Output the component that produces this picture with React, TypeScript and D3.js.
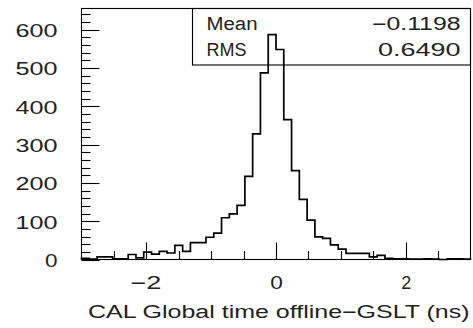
import React from "react";
import * as d3 from "d3";

// ---- data ----
const binLow = -3;
const binHigh = 3;
const binCounts = [
  3, 1, 7, 7, 2, 2, 13, 4, 19, 14,
  21, 17, 37, 21, 44, 44, 58, 69, 109, 119,
  141, 217, 328, 487, 587, 548, 365, 232, 157, 103,
  59, 55, 38, 27, 16, 16, 16, 7, 11, 3,
  2, 2, 1, 1, 2, 1, 0, 2, 2, 1,
];
const yMax = 655;
const yMajorTicks = [0, 100, 200, 300, 400, 500, 600];
const xMajorTicks = [-2, 0, 2];
const xTickLabels = ["\u22122", "0", "2"];
const xTitle = "CAL Global time offline\u2212GSLT (ns)";
const statNames = ["Mean", "RMS"];
const statValues = ["\u22120.1198", "0.6490"];

const W = 473;
const H = 328;
const FONT = "'Liberation Sans', Arial, sans-serif";

export default function App() {
  const left = 81.5, right = 470.5, top = 8.5, bottom = 259.5;
  const x = d3.scaleLinear().domain([binLow, binHigh]).range([left, right]);
  const y = d3.scaleLinear().domain([0, yMax]).range([bottom, top]);
  const n = binCounts.length;
  const bw = (binHigh - binLow) / n;

  const pts: [number, number][] = [[binLow, 0]];
  binCounts.forEach((v, i) => {
    pts.push([binLow + i * bw, v]);
    pts.push([binLow + (i + 1) * bw, v]);
  });
  pts.push([binHigh, 0]);
  const line = d3.line<[number, number]>().x((d) => x(d[0])).y((d) => y(d[1]));

  const yMinor = d3.range(0, 641, 20);
  const xMinor = d3.range(-2.5, 2.51, 0.5);

  const yLabelW = (s: string) => (s.length === 1 ? 12.5 : 42);
  const xLabelW = [31, 12.6, 10];
  const txt = "#222";

  return (
    <svg width={W} height={H} style={{ position: "absolute", left: 0, top: 0, background: "#fff" }}
      fontFamily={FONT} fontSize={18}>
      <rect x={0} y={0} width={W} height={H} fill="#fff" />
      {/* stats box */}
      <rect x={192.5} y={top} width={right - 192.5} height={65 - top} fill="none" stroke="#000" strokeWidth={1.1} />
      {statNames.map((s, i) => (
        <text key={s} x={206.5} y={30 + i * 26} textLength={i === 0 ? 51 : 40} lengthAdjust="spacingAndGlyphs" fill={txt}>{s}</text>
      ))}
      {statValues.map((s, i) => (
        <text key={s} x={460.5 - (i === 0 ? 88.5 : 82.5)} y={30 + i * 26} textLength={i === 0 ? 88.5 : 82.5}
          lengthAdjust="spacingAndGlyphs" fill={txt}>{s}</text>
      ))}
      {/* histogram */}
      <path d={line(pts) || ""} fill="none" stroke="#000" strokeWidth={1.7} />
      {/* frame */}
      <rect x={left} y={top} width={right - left} height={bottom - top} fill="none" stroke="#000" strokeWidth={1.1} />
      {/* y ticks */}
      {yMinor.map((v) => (
        <line key={"ym" + v} x1={left} x2={left + (v % 100 === 0 ? 18 : 9)} y1={Math.round(y(v)) + 0.5} y2={Math.round(y(v)) + 0.5}
          stroke="#000" strokeWidth={1.1} />
      ))}
      {yMajorTicks.map((v) => (
        <text key={"yl" + v} x={57.5 - yLabelW(String(v))} y={y(v) + 7.5} textLength={yLabelW(String(v))}
          lengthAdjust="spacingAndGlyphs" fill={txt}>{String(v)}</text>
      ))}
      {/* x ticks */}
      {xMinor.map((v) => {
        const major = xMajorTicks.some((m) => Math.abs(m - v) < 1e-6);
        return (
          <line key={"xm" + v} x1={Math.round(x(v)) + 0.5} x2={Math.round(x(v)) + 0.5} y1={bottom} y2={bottom - (major ? 17 : 8.5)}
            stroke="#000" strokeWidth={1.1} />
        );
      })}
      {xMajorTicks.map((v, i) => (
        <text key={"xl" + v} x={x(v) + (i === 0 ? -16 : 0.5)} y={288.5} textAnchor={i === 0 ? "start" : "middle"}
          textLength={xLabelW[i]} lengthAdjust="spacingAndGlyphs" fill={txt}>{xTickLabels[i]}</text>
      ))}
      {/* x title */}
      <text x={88} y={318} textLength={381.5} lengthAdjust="spacingAndGlyphs" fill={txt}>{xTitle}</text>
    </svg>
  );
}
